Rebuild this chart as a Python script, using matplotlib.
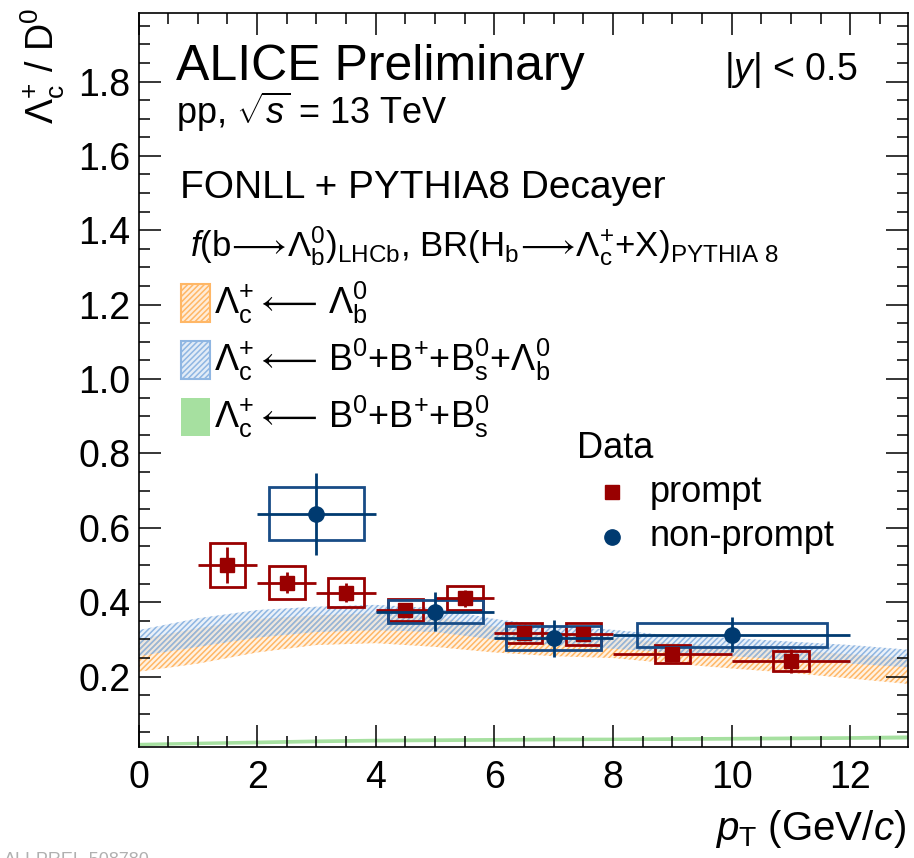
import numpy as np
import matplotlib
matplotlib.use("Agg")
import matplotlib.pyplot as plt
from matplotlib.patches import Rectangle
from matplotlib.lines import Line2D
from matplotlib.ticker import MultipleLocator

plt.rcParams['font.family'] = ['Liberation Sans', 'DejaVu Sans']
plt.rcParams['mathtext.fontset'] = 'custom'
plt.rcParams['mathtext.rm'] = 'Liberation Sans'
plt.rcParams['mathtext.it'] = 'Liberation Sans:italic'
plt.rcParams['mathtext.bf'] = 'Liberation Sans:bold'
plt.rcParams['hatch.linewidth'] = 1.1

# ---------------- data ----------------
# prompt Lc/D0
pr_x = [1.5, 2.5, 3.5, 4.5, 5.5, 6.5, 7.5, 9.0, 11.0]
pr_xerr = [0.5, 0.5, 0.5, 0.5, 0.5, 0.5, 0.5, 1.0, 1.0]
pr_y = [0.500, 0.453, 0.426, 0.379, 0.411, 0.317, 0.315, 0.261, 0.242]
pr_stat = [0.049, 0.029, 0.025, 0.020, 0.023, 0.015, 0.015, 0.018, 0.032]
pr_syst = [0.058, 0.044, 0.039, 0.029, 0.033, 0.027, 0.030, 0.025, 0.026]

# non-prompt Lc/D0
np_x = [3.0, 5.0, 7.0, 10.0]
np_xerr = [1.0, 1.0, 1.0, 2.0]
np_y = [0.638, 0.375, 0.303, 0.312]
np_stat = [0.110, 0.053, 0.050, 0.047]
np_syst = [0.071, 0.030, 0.032, 0.032]

# FONLL + PYTHIA8 decayer predictions
band_pt = [0, 1, 2, 3, 4, 5, 6, 7, 8, 9, 10, 11, 12, 13]
lb_lo = [0.213, 0.235, 0.265, 0.285, 0.290, 0.280, 0.265, 0.255, 0.250, 0.235, 0.222, 0.210, 0.195, 0.180]
lb_hi = [0.300, 0.330, 0.355, 0.365, 0.370, 0.360, 0.335, 0.315, 0.305, 0.290, 0.280, 0.270, 0.260, 0.250]
all_lo = [0.255, 0.280, 0.305, 0.320, 0.325, 0.320, 0.300, 0.285, 0.275, 0.265, 0.255, 0.245, 0.235, 0.225]
all_hi = [0.325, 0.357, 0.379, 0.388, 0.393, 0.384, 0.355, 0.335, 0.326, 0.310, 0.304, 0.294, 0.285, 0.272]
bm_lo = [0.013, 0.016, 0.018, 0.021, 0.023, 0.024, 0.025, 0.026, 0.027, 0.027, 0.028, 0.029, 0.030, 0.031]
bm_hi = [0.022, 0.025, 0.028, 0.031, 0.033, 0.034, 0.035, 0.036, 0.036, 0.037, 0.038, 0.039, 0.040, 0.042]

# ---------------- style ----------------
RED = '#990000'
BLUE = '#003a70'
BLUEBOX = '#184c86'
ORANGE = '#ffb766'
LBLUE = '#8fb6e2'
GREEN = '#a6e0a0'

W, H = 914, 858
fig = plt.figure(figsize=(W / 100, H / 100), dpi=100)
L, R, T, B = 138.5, 908, 12.7, 747.3
ax = fig.add_axes([L / W, 1 - B / H, (R - L) / W, (B - T) / H])

def fx(px):
    return px / W

def fy(py):
    return 1 - py / H

# bands
ax.fill_between(band_pt, lb_lo, lb_hi, facecolor=ORANGE, alpha=0.18, linewidth=0)
ax.fill_between(band_pt, lb_lo, lb_hi, facecolor='none', edgecolor=ORANGE,
                hatch='//////', linewidth=0)
ax.fill_between(band_pt, all_lo, all_hi, facecolor=LBLUE, alpha=0.18, linewidth=0)
ax.fill_between(band_pt, all_lo, all_hi, facecolor='none', edgecolor=LBLUE,
                hatch='//////', linewidth=0)
ax.fill_between(band_pt, bm_lo, bm_hi, facecolor=GREEN, linewidth=0)

# systematic boxes
PR_BOX_HW = 0.3
NP_BOX_FRAC = 0.8
for x, y, s in zip(pr_x, pr_y, pr_syst):
    ax.add_patch(Rectangle((x - PR_BOX_HW, y - s), 2 * PR_BOX_HW, 2 * s,
                           fill=False, edgecolor=RED, linewidth=2.0, zorder=3))
for x, y, s, xe in zip(np_x, np_y, np_syst, np_xerr):
    hw = NP_BOX_FRAC * xe
    ax.add_patch(Rectangle((x - hw, y - s), 2 * hw, 2 * s,
                           fill=False, edgecolor=BLUEBOX, linewidth=2.0, zorder=3))

# data points
ax.errorbar(pr_x, pr_y, xerr=pr_xerr, yerr=pr_stat, fmt='s', color=RED,
            markersize=10.5, elinewidth=2.0, capsize=0, zorder=4)
ax.errorbar(np_x, np_y, xerr=np_xerr, yerr=np_stat, fmt='o', color=BLUE,
            markersize=11, elinewidth=2.0, capsize=0, zorder=5)

# axes
ax.set_xlim(0, 12.97)
ax.set_ylim(0.01, 1.985)
ax.xaxis.set_major_locator(MultipleLocator(2))
ax.xaxis.set_minor_locator(MultipleLocator(0.5))
ax.yaxis.set_minor_locator(MultipleLocator(0.05))
ax.tick_params(which='both', direction='in', top=True, right=True, width=1.1,
               labelsize=27)
ax.tick_params(which='major', length=16)
ax.tick_params(which='minor', length=8)
ax.tick_params(axis='x', pad=9)
ax.tick_params(axis='y', pad=6)
yt = [t for t in np.arange(0.2, 1.81, 0.2)]
ax.set_yticks(yt)
ax.set_yticklabels(['%.1f' % t for t in yt])
for sp in ax.spines.values():
    sp.set_linewidth(1.2)

# axis titles
fig.text(fx(43), fy(8), r'$\Lambda_{\rm c}^{+}$ / D$^{0}$', rotation=90,
         ha='center', va='top', fontsize=27)
fig.text(fx(906), fy(840), r'$p_{\rm T}$ (GeV/$c$)', ha='right',
         va='baseline', fontsize=29)

# header texts
fig.text(fx(176), fy(80), 'ALICE Preliminary', fontsize=36, va='baseline')
fig.text(fx(176), fy(124), r'pp, $\sqrt{s}$ = 13 TeV', fontsize=26, va='baseline')
fig.text(fx(857), fy(80), r'|$y$| < 0.5', fontsize=27, va='baseline', ha='right')
fig.text(fx(180), fy(198), 'FONLL + PYTHIA8 Decayer', fontsize=28, va='baseline')
fig.text(fx(190), fy(256),
         r'$f$(b$\!\longrightarrow\!\Lambda_{\rm b}^{0}$)$_{\rm LHCb}$, '
         r'BR(H$_{\rm b}\!\longrightarrow\!\Lambda_{\rm c}^{+}$+X)$_{\rm PYTHIA\ 8}$',
         fontsize=25, va='baseline')

# model legend
entries = [
    (ORANGE, '//////', 303, r'$\Lambda_{\rm c}^{+}\longleftarrow\,\Lambda_{\rm b}^{0}$'),
    (LBLUE, '//////', 360, r'$\Lambda_{\rm c}^{+}\longleftarrow\,$B$^{0}$+B$^{+}$+B$_{\rm s}^{0}$+$\Lambda_{\rm b}^{0}$'),
    (GREEN, None, 417, r'$\Lambda_{\rm c}^{+}\longleftarrow\,$B$^{0}$+B$^{+}$+B$_{\rm s}^{0}$'),
]
for col, hatch, yc, lab in entries:
    if hatch:
        fig.patches.append(Rectangle((fx(181), fy(yc + 19)), 29 / W, 38 / H,
                                     transform=fig.transFigure, facecolor=col,
                                     alpha=0.25, linewidth=0))
        fig.patches.append(Rectangle((fx(181), fy(yc + 19)), 29 / W, 38 / H,
                                     transform=fig.transFigure, facecolor='none',
                                     edgecolor=col, hatch=hatch, linewidth=1.5))
    else:
        fig.patches.append(Rectangle((fx(181), fy(yc + 19)), 29 / W, 38 / H,
                                     transform=fig.transFigure, facecolor=col,
                                     linewidth=0))
    fig.text(fx(214), fy(yc), lab, fontsize=26, va='center')

# data legend
fig.text(fx(577), fy(458), 'Data', fontsize=26, va='baseline')
fig.lines.append(Line2D([fx(612)], [fy(492)], marker='s', color=RED,
                        markersize=10, transform=fig.transFigure))
fig.lines.append(Line2D([fx(612)], [fy(537)], marker='o', color=BLUE,
                        markersize=11, transform=fig.transFigure))
fig.text(fx(650), fy(492), 'prompt', fontsize=26, va='center')
fig.text(fx(650), fy(537), 'non-prompt', fontsize=26, va='center')

# preliminary figure id (cut at bottom edge, as in the reference)
fig.text(fx(4), fy(852), 'ALI-PREL-508780', fontsize=13, color='#b0b0b0',
         va='top', ha='left')

fig.savefig('out.png', dpi=100)
